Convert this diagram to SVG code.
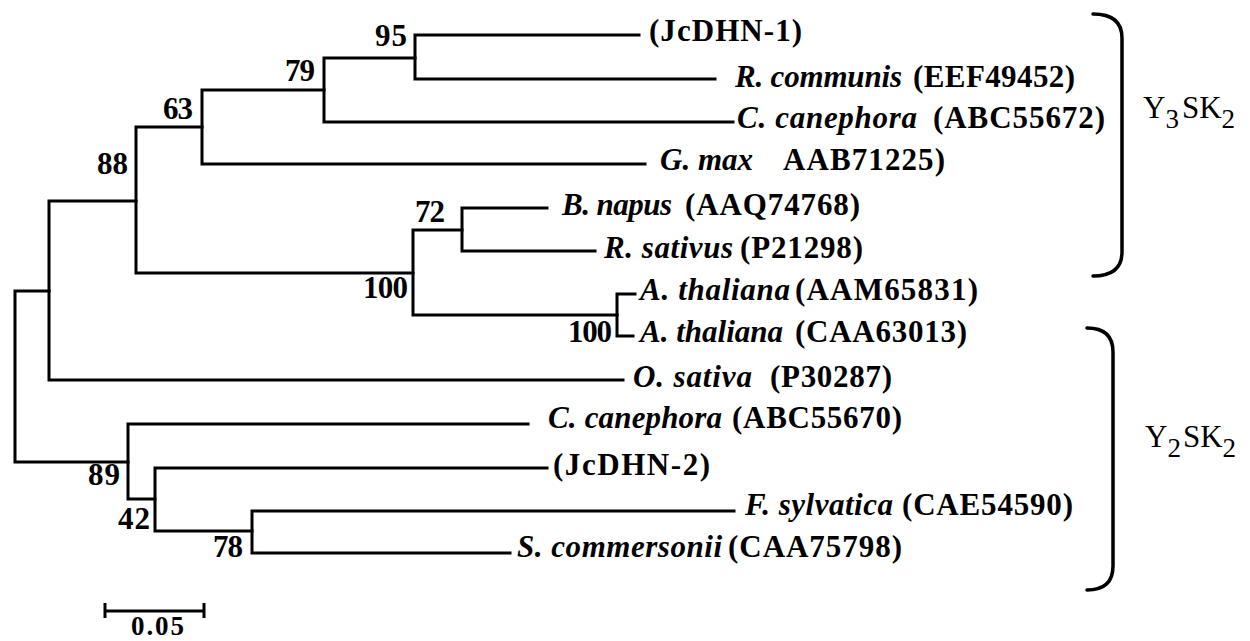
<svg xmlns="http://www.w3.org/2000/svg" width="1250" height="641" viewBox="0 0 1250 641">
<style>
.br{fill:none;stroke:#000;stroke-width:3;stroke-linecap:square;stroke-linejoin:miter}
.bk{fill:none;stroke:#000;stroke-width:3.5;stroke-linecap:round}
text{font-family:"Liberation Serif","Times New Roman",serif;fill:#000;font-weight:bold}
.sp{font-style:italic;font-size:31px}
.ac{font-size:31px}
.bs{font-size:31px}
.cl{font-size:31px;font-weight:normal}
.sub{font-size:27px}
.sc{font-size:27px}
</style>
<rect width="1250" height="641" fill="#fff"/>
<g id="connectors">
<path class="br" d="M49,291 H15 V462 H128"/>
<path class="br" d="M136,201 H49 V380 H623"/>
<path class="br" d="M202,127 H136 V273 H413"/>
<path class="br" d="M324,90 H202 V164 H645"/>
<path class="br" d="M415,58 H324 V122 H733"/>
<path class="br" d="M639,35 H415 V79 H715"/>
<path class="br" d="M462,230 H413 V315 H617"/>
<path class="br" d="M547,208 H462 V251 H595"/>
<path class="br" d="M635,294 H617 V336 H633"/>
<path class="br" d="M528,424 H128 V499 H155"/>
<path class="br" d="M547,468 H155 V531 H252"/>
<path class="br" d="M734,511 H252 V553 H510"/>
</g>
<g id="bootstrap">
<text class="bs" x="375" y="46" textLength="32">95</text>
<text class="bs" x="285" y="81" textLength="30">79</text>
<text class="bs" x="163" y="119" textLength="30">63</text>
<text class="bs" x="97" y="174" textLength="31">88</text>
<text class="bs" x="415" y="222" textLength="30">72</text>
<text class="bs" x="363" y="298" textLength="45">100</text>
<text class="bs" x="568" y="342" textLength="44">100</text>
<text class="bs" x="88" y="485" textLength="32">89</text>
<text class="bs" x="118" y="529" textLength="32">42</text>
<text class="bs" x="213" y="557" textLength="30">78</text>
</g>
<g id="leaf-jcdhn1"><text class="ac" x="649" y="41" textLength="153">(JcDHN-1)</text></g>
<g id="leaf-rcommunis"><text class="sp" x="735" y="87" textLength="167">R. communis</text><text class="ac" x="913" y="87" textLength="162">(EEF49452)</text></g>
<g id="leaf-ccanephora1"><text class="sp" x="737" y="128" textLength="180">C. canephora</text><text class="ac" x="933" y="128" textLength="172">(ABC55672)</text></g>
<g id="leaf-gmax"><text class="sp" x="660" y="170" textLength="93">G. max</text><text class="ac" x="783" y="170" textLength="162">AAB71225)</text></g>
<g id="leaf-bnapus"><text class="sp" x="562" y="215" textLength="110">B. napus</text><text class="ac" x="685" y="215" textLength="175">(AAQ74768)</text></g>
<g id="leaf-rsativus"><text class="sp" x="604" y="258" textLength="129">R. sativus</text><text class="ac" x="740" y="258" textLength="123">(P21298)</text></g>
<g id="leaf-athaliana1"><text class="sp" x="640" y="300" textLength="150">A. thaliana</text><text class="ac" x="795" y="300" textLength="183">(AAM65831)</text></g>
<g id="leaf-athaliana2"><text class="sp" x="640" y="342" textLength="143">A. thaliana</text><text class="ac" x="795" y="342" textLength="172">(CAA63013)</text></g>
<g id="leaf-osativa"><text class="sp" x="633" y="387" textLength="119">O. sativa</text><text class="ac" x="770" y="387" textLength="122">(P30287)</text></g>
<g id="leaf-ccanephora2"><text class="sp" x="548" y="428" textLength="174">C. canephora</text><text class="ac" x="732" y="428" textLength="170">(ABC55670)</text></g>
<g id="leaf-jcdhn2"><text class="ac" x="553" y="475" textLength="157">(JcDHN-2)</text></g>
<g id="leaf-fsylvatica"><text class="sp" x="745" y="515" textLength="148">F. sylvatica</text><text class="ac" x="902" y="515" textLength="171">(CAE54590)</text></g>
<g id="leaf-scommersonii"><text class="sp" x="517" y="557" textLength="205">S. commersonii</text><text class="ac" x="728" y="557" textLength="174">(CAA75798)</text></g>
<g id="clade-y3sk2">
<path class="bk" d="M1093,14 Q1122,14 1122,38 V252 Q1122,276 1093,276"/>
<text class="cl" x="1143" y="118">Y<tspan class="sub" dy="10">3</tspan><tspan dx="3" dy="-10">SK</tspan><tspan class="sub" dy="10">2</tspan></text>
</g>
<g id="clade-y2sk2">
<path class="bk" d="M1087,328 Q1113,328 1113,352 V566 Q1113,590 1087,590"/>
<text class="cl" x="1145" y="447">Y<tspan class="sub" dy="10">2</tspan><tspan dx="2" dy="-10">SK</tspan><tspan class="sub" dy="10">2</tspan></text>
</g>
<g id="scalebar">
<path class="br" d="M105,603 V618 M105,611 H204 M204,603 V618" style="stroke-linecap:butt"/>
<text class="sc" x="131" y="635" textLength="53">0.05</text>
</g>
</svg>
